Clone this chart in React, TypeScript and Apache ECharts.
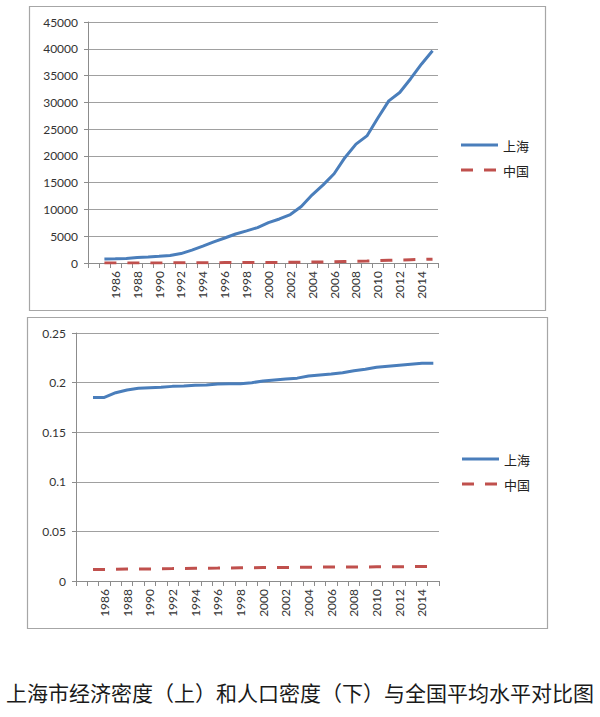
import React, { useEffect, useRef } from "react";
import * as echarts from "echarts";

const years = [
  "1984", "1985", "1986", "1987", "1988", "1989", "1990", "1991", "1992", "1993", "1994",
  "1995", "1996", "1997", "1998", "1999", "2000", "2001", "2002", "2003", "2004", "2005",
  "2006", "2007", "2008", "2009", "2010", "2011", "2012", "2013", "2014", "2015",
];

// Economic density (top)
const econShanghai = [
  null, 740, 775, 860, 1020, 1100, 1240, 1410, 1760, 2400, 3140,
  3940, 4670, 5420, 6000, 6610, 7530, 8220, 9050, 10560, 12730, 14590,
  16670, 19710, 22190, 23730, 27070, 30270, 31830, 34410, 37170, 39620,
];
const econChina = [
  null, 10, 11, 13, 16, 18, 20, 23, 28, 37, 51,
  64, 75, 83, 89, 94, 104, 115, 127, 143, 169, 195,
  229, 281, 333, 364, 430, 510, 563, 620, 671, 718,
];

// Population density (bottom)
const popShanghai = [
  null, 0.185, 0.185, 0.1898, 0.1925, 0.1942, 0.1949, 0.1952, 0.1962, 0.1966, 0.1973,
  0.1976, 0.1986, 0.1989, 0.1989, 0.1999, 0.2016, 0.2026, 0.2036, 0.2045, 0.2067, 0.2077,
  0.2087, 0.21, 0.212, 0.2134, 0.2154, 0.2164, 0.2174, 0.2184, 0.2194, 0.2194,
];
const popChina = [
  null, 0.0115, 0.0117, 0.0118, 0.012, 0.0121, 0.0122, 0.0124, 0.0125, 0.0127, 0.0128,
  0.0129, 0.013, 0.0132, 0.0133, 0.0134, 0.0135, 0.0136, 0.0137, 0.0138, 0.0139, 0.014,
  0.014, 0.0141, 0.0142, 0.0142, 0.0143, 0.0144, 0.0144, 0.0145, 0.0146, 0.0147,
];

const econTicks = { min: 0, max: 45000, interval: 5000 };
const popTicks = { min: 0, max: 0.25, interval: 0.05 };

const seriesNames = ["上海", "中国"];
const caption = "上海市经济密度（上）和人口密度（下）与全国平均水平对比图";

const BLUE = "#4a7ebb";
const RED = "#c0504d";
const AXIS = "#8c8c8c";
const GRID = "#a0a0a0";
const DASH = [12, 11];
const LABEL_FONT = "Lato, 'Open Sans', sans-serif";
const CJK_FONT = "'Noto Sans CJK SC', sans-serif";

function xAxisDef(gridIndex: number) {
  return {
    type: "category",
    gridIndex,
    data: years,
    boundaryGap: true,
    axisLine: { lineStyle: { color: AXIS, width: 1 } },
    axisTick: { show: true, interval: 0, length: 5, lineStyle: { color: AXIS } },
    axisLabel: {
      interval: (index: number) => index > 0 && index % 2 === 0,
      rotate: 90,
      fontFamily: LABEL_FONT,
      fontSize: 12,
      color: "#333",
      margin: 8,
    },
    splitLine: { show: false },
  };
}

function yAxisDef(gridIndex: number, t: { min: number; max: number; interval: number }) {
  return {
    type: "value",
    gridIndex,
    min: t.min,
    max: t.max,
    interval: t.interval,
    axisLine: { show: true, lineStyle: { color: AXIS, width: 1 } },
    axisTick: { show: true, length: 4, lineStyle: { color: AXIS } },
    axisLabel: {
      fontFamily: LABEL_FONT,
      fontSize: 12,
      color: "#333",
      margin: 10,
      formatter: (v: number) => String(parseFloat(v.toFixed(4))),
    },
    splitLine: { show: true, lineStyle: { color: GRID, width: 1 } },
  };
}

function lineSeries(name: string, idx: number, data: (number | null)[], color: string, dashed: boolean) {
  return {
    name,
    type: "line",
    xAxisIndex: idx,
    yAxisIndex: idx,
    data,
    symbol: "none",
    showSymbol: false,
    connectNulls: false,
    lineStyle: { color, width: 3, type: dashed ? DASH : "solid" },
    itemStyle: { color },
    emphasis: { disabled: true },
  };
}

// Legend drawn as graphic: a line sample followed by a label, two rows.
function legendGraphic(x: number, yFirst: number, gap: number) {
  const items: any[] = [];
  const colors = [BLUE, RED];
  seriesNames.forEach((name, i) => {
    const y = yFirst + i * gap;
    items.push({
      type: "line",
      shape: { x1: x, y1: y, x2: x + 37, y2: y },
      style: {
        stroke: colors[i],
        lineWidth: 3,
        lineDash: i === 1 ? DASH : null,
      },
      silent: true,
    });
    items.push({
      type: "text",
      x: x + 42,
      y,
      style: {
        text: name,
        fontFamily: CJK_FONT,
        fontSize: 13,
        fill: "#222",
        textAlign: "left",
        textVerticalAlign: "middle",
      },
      silent: true,
    });
  });
  return items;
}

export default function App() {
  const ref = useRef<HTMLDivElement>(null);
  useEffect(() => {
    if (!ref.current) return;
    const chart = echarts.init(ref.current, undefined, { renderer: "svg" });
    chart.setOption({
      animation: false,
      backgroundColor: "#ffffff",
      grid: [
        { left: 88, top: 22, right: 162, bottom: 454 },
        { left: 76, top: 333, right: 161, bottom: 136 },
      ],
      xAxis: [xAxisDef(0), xAxisDef(1)],
      yAxis: [yAxisDef(0, econTicks), yAxisDef(1, popTicks)],
      series: [
        lineSeries(seriesNames[0], 0, econShanghai, BLUE, false),
        lineSeries(seriesNames[1], 0, econChina, RED, true),
        lineSeries(seriesNames[0], 1, popShanghai, BLUE, false),
        lineSeries(seriesNames[1], 1, popChina, RED, true),
      ],
      graphic: [
        {
          type: "rect",
          shape: { x: 29.5, y: 6.5, width: 516, height: 304 },
          style: { fill: "none", stroke: "#a6a6a6", lineWidth: 1.2 },
          z: -1,
          silent: true,
        },
        {
          type: "rect",
          shape: { x: 27.5, y: 317.5, width: 520, height: 311 },
          style: { fill: "none", stroke: "#a6a6a6", lineWidth: 1.2 },
          z: -1,
          silent: true,
        },
        ...legendGraphic(461, 145, 25),
        ...legendGraphic(462, 459, 25),
        {
          type: "text",
          x: 300,
          y: 692,
          style: {
            text: caption,
            fontFamily: CJK_FONT,
            fontSize: 21,
            fill: "#1a1a1a",
            textAlign: "center",
            textVerticalAlign: "middle",
          },
          silent: true,
        },
      ],
    });
    return () => chart.dispose();
  }, []);
  return (
    <div
      ref={ref}
      style={{ position: "absolute", left: 0, top: 0, width: 600, height: 717 }}
    />
  );
}
